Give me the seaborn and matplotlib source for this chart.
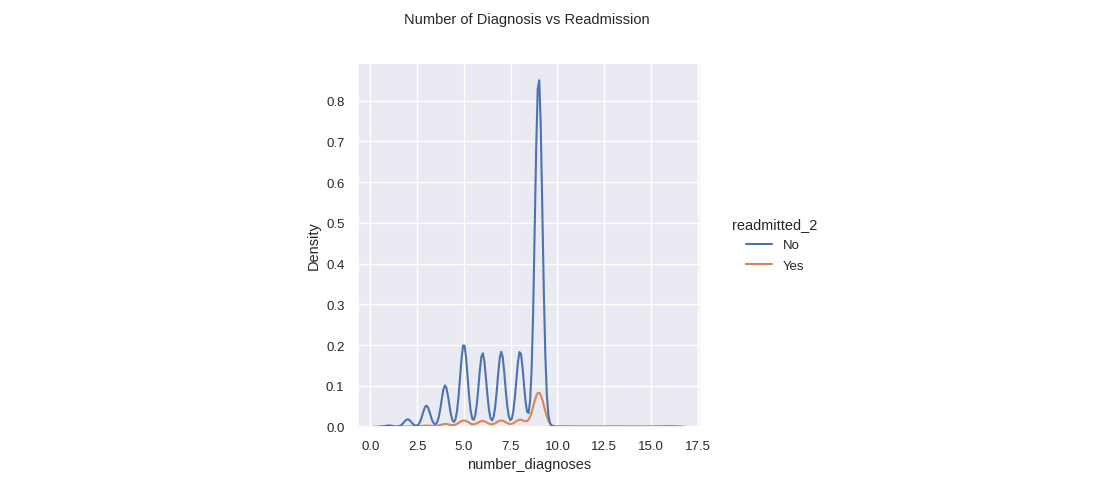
import numpy as np
import pandas as pd
import matplotlib
matplotlib.use("Agg")
import matplotlib.pyplot as plt
import seaborn as sns

# Patient counts per number of diagnoses, split by readmission status
diagnoses = [1, 2, 3, 4, 5, 6, 7, 8, 9, 10, 11, 12, 13, 14, 15, 16]
count_no = [153, 918, 2602, 5102, 10204, 9081, 9234, 9285, 43110,
            15, 10, 8, 14, 6, 9, 40]
count_yes = [20, 70, 200, 470, 1080, 1000, 1080, 1200, 5945,
             2, 1, 1, 2, 1, 1, 5]
readmit_labels = ["No", "Yes"]

values = np.concatenate([np.repeat(diagnoses, count_no),
                         np.repeat(diagnoses, count_yes)])
groups = np.concatenate([np.repeat(readmit_labels[0], sum(count_no)),
                         np.repeat(readmit_labels[1], sum(count_yes))])
df = pd.DataFrame({"number_diagnoses": values, "readmitted_2": groups})

sns.set_theme(style="darkgrid", font_scale=0.87)
plt.rcParams["font.family"] = ["Liberation Sans", "DejaVu Sans"]

fig = plt.figure(figsize=(11.08, 4.85), dpi=100)
ax = fig.add_axes([0.3228, 0.1181, 0.3099, 0.7500])

sns.kdeplot(data=df, x="number_diagnoses", hue="readmitted_2",
            hue_order=readmit_labels, ax=ax)

ax.set_xticks(np.arange(0, 17.6, 2.5))
ax.set_ylabel("Density")
ax.set_xlabel("number_diagnoses")

sns.move_legend(ax, "center left", bbox_to_anchor=(727 / 1108, 0.494),
                bbox_transform=fig.transFigure, frameon=False,
                borderaxespad=0, labelspacing=0.6)

fig.suptitle("Number of Diagnosis vs Readmission", x=0.4752, y=0.959,
             va="center", fontsize=10.5)

fig.savefig("out.png", dpi=100)
